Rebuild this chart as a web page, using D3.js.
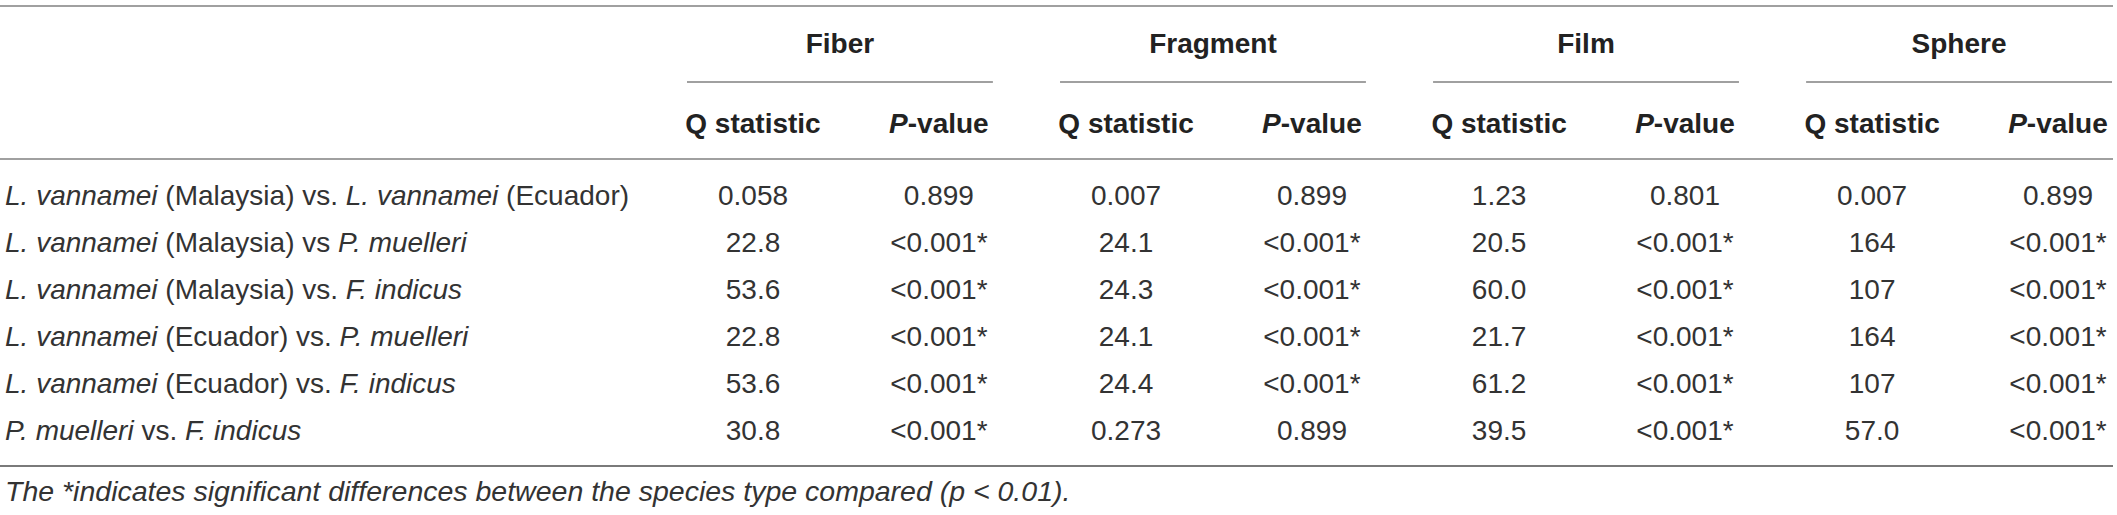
<!DOCTYPE html>
<html>
<head>
<meta charset="utf-8">
<script src="https://cdn.jsdelivr.net/npm/d3@7/dist/d3.min.js"></script>
<style>
  html, body { margin: 0; padding: 0; background: #fff; }
  svg { display: block; }
  text { font-family: "Liberation Sans", Arial, Helvetica, sans-serif; }
</style>
</head>
<body>
<svg id="chart" width="2117" height="515"></svg>
<script>
// ---------- data ----------
const groups = ["Fiber", "Fragment", "Film", "Sphere"];
const subColumns = ["Q statistic", "P-value"];
const comparisons = [
  [["L. vannamei", true], [" (Malaysia) vs. ", false], ["L. vannamei", true], [" (Ecuador)", false]],
  [["L. vannamei", true], [" (Malaysia) vs ", false], ["P. muelleri", true]],
  [["L. vannamei", true], [" (Malaysia) vs. ", false], ["F. indicus", true]],
  [["L. vannamei", true], [" (Ecuador) vs. ", false], ["P. muelleri", true]],
  [["L. vannamei", true], [" (Ecuador) vs. ", false], ["F. indicus", true]],
  [["P. muelleri", true], [" vs. ", false], ["F. indicus", true]]
];
const fiberQ    = ["0.058", "22.8", "53.6", "22.8", "53.6", "30.8"];
const fiberP    = ["0.899", "<0.001*", "<0.001*", "<0.001*", "<0.001*", "<0.001*"];
const fragmentQ = ["0.007", "24.1", "24.3", "24.1", "24.4", "0.273"];
const fragmentP = ["0.899", "<0.001*", "<0.001*", "<0.001*", "<0.001*", "0.899"];
const filmQ     = ["1.23", "20.5", "60.0", "21.7", "61.2", "39.5"];
const filmP     = ["0.801", "<0.001*", "<0.001*", "<0.001*", "<0.001*", "<0.001*"];
const sphereQ   = ["0.007", "164", "107", "164", "107", "57.0"];
const sphereP   = ["0.899", "<0.001*", "<0.001*", "<0.001*", "<0.001*", "<0.001*"];
const footnote = "The *indicates significant differences between the species type compared (p < 0.01).";

const valuesByGroup = {
  "Fiber":    [fiberQ, fiberP],
  "Fragment": [fragmentQ, fragmentP],
  "Film":     [filmQ, filmP],
  "Sphere":   [sphereQ, sphereP]
};

// ---------- layout ----------
const svg = d3.select("#chart");
const fontSize = 28;
const textColor = "#333333";

const yTopRule = 6, yGroup = 43, yUnder = 82, ySub = 123, yHeadRule = 159, yBottomRule = 466, yFoot = 491;

const x = d3.scaleBand().domain(groups).range([687, 2112]).paddingInner(0.18).paddingOuter(0);
const xSub = d3.scalePoint().domain(subColumns).range([66, x.bandwidth() - 54]);
const y = d3.scalePoint().domain(d3.range(comparisons.length)).range([195, 430]);

// rules
[[yTopRule, 2, "#a0a0a0"], [yHeadRule, 2, "#a0a0a0"], [yBottomRule, 2, "#7a7a7a"]].forEach(([yy, w, c]) => {
  svg.append("line").attr("x1", 0).attr("x2", 2113).attr("y1", yy).attr("y2", yy)
    .attr("stroke", c).attr("stroke-width", w);
});

// group headers + underlines
const g = svg.selectAll("g.grp").data(groups).join("g").attr("class", "grp")
  .attr("transform", d => `translate(${x(d)},0)`);

g.append("text")
  .attr("x", x.bandwidth() / 2).attr("y", yGroup).attr("dy", "0.35em")
  .attr("text-anchor", "middle").attr("font-weight", "bold")
  .attr("font-size", fontSize).attr("fill", "#222")
  .text(d => d);

g.append("line")
  .attr("x1", 0).attr("x2", x.bandwidth()).attr("y1", yUnder).attr("y2", yUnder)
  .attr("stroke", "#808080").attr("stroke-width", 1.6);

// sub headers
g.each(function() {
  const gg = d3.select(this);
  subColumns.forEach(sc => {
    const t = gg.append("text")
      .attr("x", xSub(sc)).attr("y", ySub).attr("dy", "0.35em")
      .attr("text-anchor", "middle").attr("font-weight", "bold")
      .attr("font-size", fontSize).attr("fill", "#222");
    if (sc === "P-value") {
      t.append("tspan").attr("font-style", "italic").text("P");
      t.append("tspan").text("-value");
    } else {
      t.text(sc);
    }
  });
});

// values
g.each(function(grp) {
  const gg = d3.select(this);
  subColumns.forEach((sc, ci) => {
    gg.selectAll(null).data(valuesByGroup[grp][ci]).join("text")
      .attr("x", xSub(sc)).attr("y", (d, i) => y(i)).attr("dy", "0.35em")
      .attr("text-anchor", "middle").attr("font-size", fontSize).attr("fill", textColor)
      .text(d => d);
  });
});

// row labels
svg.selectAll("text.lbl").data(comparisons).join("text").attr("class", "lbl")
  .attr("x", 5).attr("y", (d, i) => y(i)).attr("dy", "0.35em")
  .attr("font-size", fontSize).attr("fill", textColor)
  .each(function(parts) {
    const t = d3.select(this);
    parts.forEach(([s, it]) => {
      t.append("tspan").attr("font-style", it ? "italic" : "normal").text(s);
    });
  });

// footnote
svg.append("text")
  .attr("x", 5).attr("y", yFoot).attr("dy", "0.35em")
  .attr("font-size", 28.5).attr("font-style", "italic").attr("fill", textColor)
  .text(footnote);
</script>
</body>
</html>
